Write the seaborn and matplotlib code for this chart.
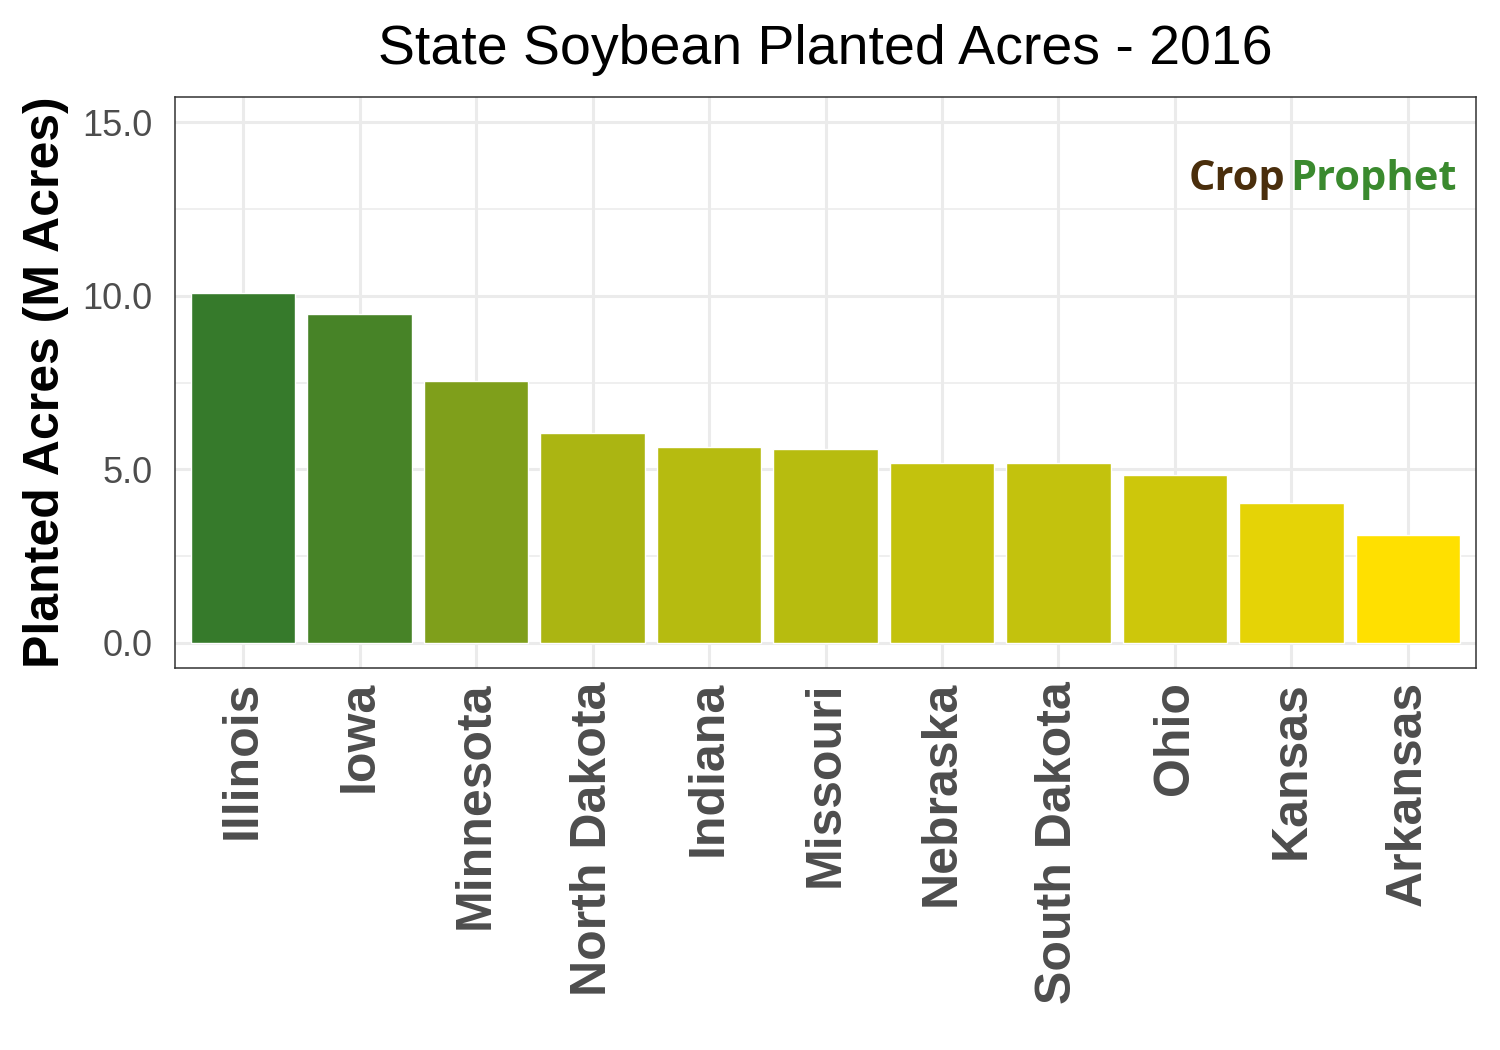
import matplotlib
matplotlib.use('Agg')
import matplotlib.pyplot as plt
import matplotlib.colors as mcolors
import seaborn as sns
import pandas as pd

states = ['Illinois', 'Iowa', 'Minnesota', 'North Dakota', 'Indiana', 'Missouri',
          'Nebraska', 'South Dakota', 'Ohio', 'Kansas', 'Arkansas']
acres = [10.08, 9.48, 7.55, 6.05, 5.65, 5.59, 5.19, 5.19, 4.84, 4.03, 3.11]
yticks = [0, 5, 10, 15]
ytick_labels = ['0.0', '5.0', '10.0', '15.0']

df = pd.DataFrame({'state': states, 'acres': acres})

# fill gradient from yellow (low) to green (high)
cmap = mcolors.LinearSegmentedColormap.from_list('gy', ['#ffe000', '#367a2b'])
norm = mcolors.Normalize(min(acres), max(acres))
palette = [cmap(norm(v)) for v in acres]

sns.set_style('whitegrid')
plt.rcParams['font.family'] = 'Liberation Sans'
fig = plt.figure(figsize=(15, 10.5), dpi=100)
ax = fig.add_axes([175/1500, 1-668/1050, (1476-175)/1500, (668-97)/1050])

sns.barplot(data=df, x='state', y='acres', hue='state', palette=palette,
            legend=False, width=0.9, saturation=1, ax=ax, zorder=3)

ax.set_xlim(-0.584, 10.584)
ax.set_ylim(-0.72, 15.72)
ax.set_yticks(yticks)
ax.set_yticklabels(ytick_labels)
ax.set_yticks([2.5, 7.5, 12.5], minor=True)
ax.grid(True, which='major', color='#ebebeb', linewidth=2.2)
ax.grid(True, which='minor', axis='y', color='#ebebeb', linewidth=1.1)
ax.set_axisbelow(True)
for s in ax.spines.values():
    s.set_color('#333333')
    s.set_linewidth(1.1)
ax.tick_params(axis='both', which='major', length=6, color='#333333', width=1.1)
ax.tick_params(axis='y', which='minor', length=0)
ax.tick_params(axis='y', labelsize=26, labelcolor='#4d4d4d', pad=10)
ax.tick_params(axis='x', labelsize=36, labelcolor='#4d4d4d', rotation=90)
for lab in ax.get_xticklabels():
    lab.set_fontweight('bold')
ax.set_xlabel('')
ax.set_ylabel('Planted Acres (M Acres)', fontsize=36, fontweight='bold', labelpad=10,
              color='black')
ax.set_title('State Soybean Planted Acres - 2016', fontsize=40, pad=24, color='black')

# logo text
ax.text(0.779, 0.855, 'Crop', transform=ax.transAxes, fontsize=30, color='#4a2e0c',
        fontweight='bold', va='center', ha='left', family='Open Sans')
ax.text(0.857, 0.855, 'Prophet', transform=ax.transAxes, fontsize=30, color='#3a8a2e',
        fontweight='bold', va='center', ha='left', family='Open Sans')

fig.savefig('out.png', dpi=100)
